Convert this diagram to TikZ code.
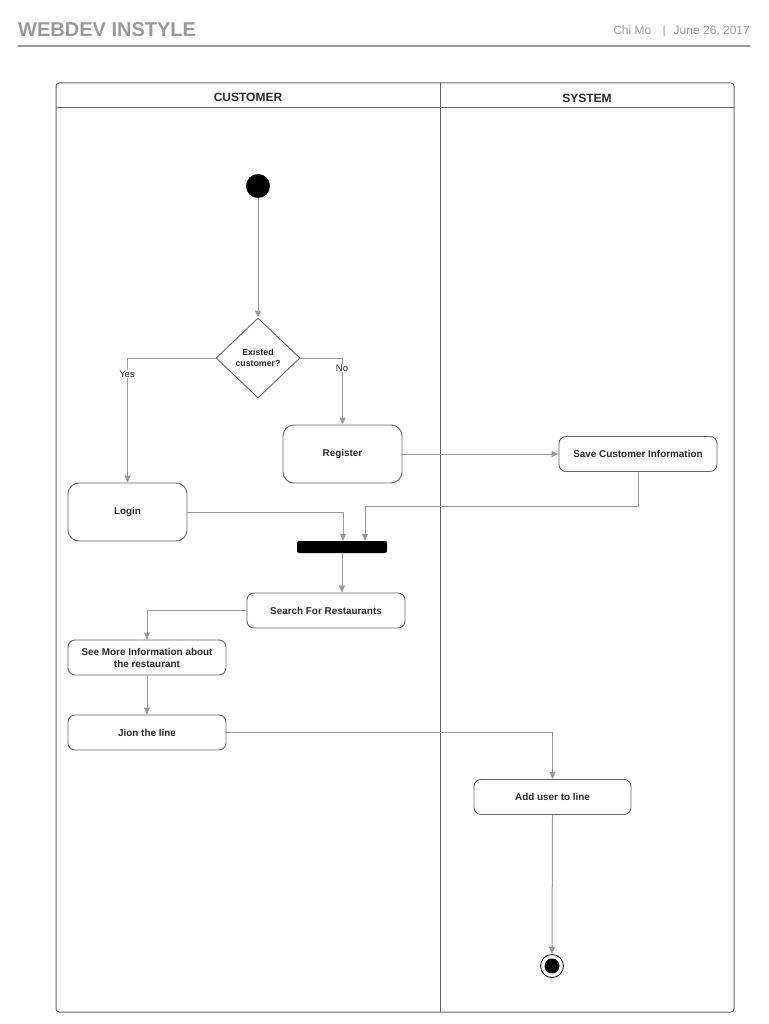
\documentclass[tikz,border=0pt]{standalone}
\usepackage{fontspec}
\setmainfont{Liberation Sans}
\usetikzlibrary{arrows.meta,shapes.geometric}
\definecolor{conn}{HTML}{999999}
\definecolor{frame}{HTML}{666666}
\definecolor{txt}{HTML}{2A2A2A}
\definecolor{head}{HTML}{9A9A9A}
\begin{document}
\begin{tikzpicture}[x=1pt,y=-1pt,
  act/.style={draw=frame,line width=0.9pt,rounded corners=7pt,fill=white,font=\bfseries\fontsize{9.9}{12}\selectfont,text=txt,align=center,inner sep=0pt},
  flow/.style={draw=conn,line width=1pt,-{Triangle[length=7pt,width=6pt]}},
  lbl/.style={font=\fontsize{9.5}{11}\selectfont,text=txt,fill=white,inner sep=1pt},
  lane/.style={font=\bfseries\fontsize{12}{14}\selectfont,text=txt}]
\useasboundingbox (0,0) rectangle (768,1024);
% header
\node[anchor=west,text=head,font=\bfseries\fontsize{20}{24}\selectfont,inner sep=0pt] (title) at (18,30) {WEBDEV INSTYLE};
\node[anchor=east,text=head,font=\fontsize{12}{14}\selectfont,inner sep=0pt] (author) at (750,31) {Chi Mo \enspace\,|\,\enspace June 26, 2017};
\draw[draw=head,line width=2pt] (18,46) -- (750,46);
% swimlanes
\draw[draw=frame,line width=1pt,rounded corners=3pt] (56,83) rectangle (734,1012);
\draw[draw=frame,line width=1pt] (56,108) -- (734,108);
\draw[draw=frame,line width=1pt] (440,83) -- (440,1012);
\node[lane] (lc) at (248,97) {CUSTOMER};
\node[lane] (ls) at (587,98) {SYSTEM};
% nodes
\node[circle,fill=black,minimum size=24pt,inner sep=0pt] (start) at (258,186) {};
\node[diamond,draw=frame,line width=0.9pt,fill=white,minimum width=84pt,minimum height=80pt,inner sep=0pt,font=\bfseries\fontsize{8.8}{11}\selectfont,text=txt,align=center] (dec) at (258,358) {Existed\\customer?};
\node[act,minimum width=119pt,minimum height=58pt,rounded corners=11pt] (reg) at (342.5,454) {Register};
\node[act,minimum width=158pt,minimum height=35pt] (save) at (638,454) {Save Customer Information};
\node[act,minimum width=119pt,minimum height=58pt,rounded corners=11pt] (login) at (127.5,512) {Login};
\node[fill=black,rounded corners=2pt,minimum width=90pt,minimum height=12pt,inner sep=0pt] (bar) at (342,547) {};
\node[act,minimum width=158pt,minimum height=35pt] (search) at (326,610.5) {Search For Restaurants};
\node[act,minimum width=158pt,minimum height=35pt] (more) at (147,657.5) {See More Information about\\the restaurant};
\node[act,minimum width=158pt,minimum height=35pt] (join) at (147,732.5) {Jion the line};
\node[act,minimum width=157pt,minimum height=35pt] (add) at (552.5,797) {Add user to line};
\node[circle,draw=black,line width=0.8pt,fill=white,minimum size=23pt,inner sep=0pt] (end) at (552,966) {};
\node[circle,fill=black,minimum size=15pt,inner sep=0pt] (endin) at (end) {};
% connectors
\draw[flow] (start) -- (dec.north);
\draw[flow] (dec.west) -| (login.north);
\draw[flow] (dec.east) -| (reg.north);
\node[lbl] (yes) at (127,374) {Yes};
\node[lbl] (no) at (342,368) {No};
\draw[flow] (reg.east) -- (save.west);
\draw[flow] (login.east) -| ([xshift=1pt]bar.north);
\coordinate (sv) at (638,506);
\draw[flow] (save.south) -- (sv) -| ([xshift=23pt]bar.north);
\draw[flow] (bar.south) -- (bar.south |- search.north);
\draw[flow] (search.west) -| (more.north);
\draw[flow] (more.south) -- (join.north);
\draw[flow] ([yshift=0.5pt]join.east) -| (add.north);
\draw[flow] (add.south) -- (end.north);
\end{tikzpicture}
\end{document}
